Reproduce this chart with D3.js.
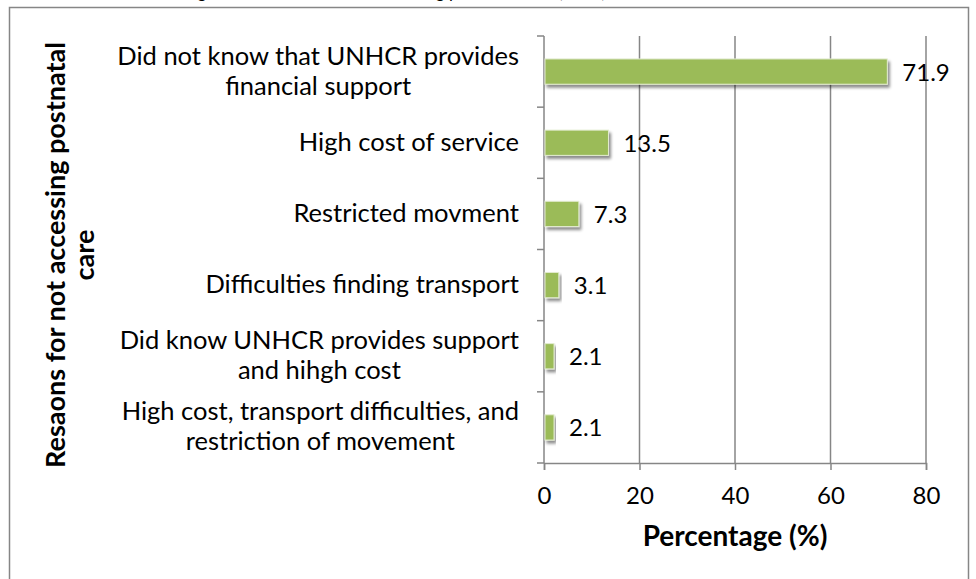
<!DOCTYPE html>
<html>
<head>
<meta charset="utf-8">
<script src="https://cdn.jsdelivr.net/npm/d3@7"></script>
<style>
  body { margin: 0; background: #fff; }
  svg { display: block; }
  text { font-family: Lato, "Open Sans", sans-serif; fill: #000; }
</style>
</head>
<body>
<svg width="976" height="579"></svg>
<script>
  var categories = [
    ['Did not know that UNHCR provides', 'financial support'],
    ['High cost of service'],
    ['Restricted movment'],
    ['Difficulties finding transport'],
    ['Did know UNHCR provides support', 'and hihgh cost'],
    ['High cost, transport difficulties, and', 'restriction of movement']
  ];
  var values = [71.9, 13.5, 7.3, 3.1, 2.1, 2.1];
  var xTicks = [0, 20, 40, 60, 80];

  var svg = d3.select('svg');

  var plotLeft = 544, plotRight = 926, plotTop = 36, plotBottom = 463;
  var grid = '#868686';

  // drop shadow for the bars
  var defs = svg.append('defs');
  var f = defs.append('filter').attr('id', 'shadow')
    .attr('x', '-10%').attr('y', '-30%').attr('width', '130%').attr('height', '180%');
  f.append('feDropShadow')
    .attr('dx', 2).attr('dy', 3).attr('stdDeviation', 1.8)
    .attr('flood-color', '#000').attr('flood-opacity', 0.45);

  // chart frame
  svg.append('rect')
    .attr('x', 9.5).attr('y', 7.5)
    .attr('width', 959).attr('height', 600)
    .attr('fill', 'none')
    .attr('stroke', grid)
    .attr('stroke-width', 1.5);

  // title, mostly cut off at the top of the page
  svg.append('text')
    .attr('x', 395).attr('y', -2)
    .attr('text-anchor', 'middle')
    .style('font-size', '17px')
    .text('Figure 5: Reasons for not accessing postnatal care (n=96)');

  var x = d3.scaleLinear().domain([0, 80]).range([plotLeft, plotRight]);
  var y = d3.scaleBand()
    .domain(d3.range(categories.length))
    .range([plotTop, plotBottom]);

  // vertical gridlines
  svg.append('g')
    .selectAll('line')
    .data(xTicks.slice(1))
    .join('line')
    .attr('x1', function(d) { return x(d); })
    .attr('x2', function(d) { return x(d); })
    .attr('y1', plotTop)
    .attr('y2', plotBottom)
    .attr('stroke', grid)
    .attr('stroke-width', 1.5);

  // x axis
  var xAxis = svg.append('g')
    .attr('transform', 'translate(0,' + plotBottom + ')')
    .call(d3.axisBottom(x).tickValues(xTicks).tickSize(7).tickPadding(17).tickFormat(d3.format('d')));
  xAxis.select('.domain').attr('stroke', grid).attr('stroke-width', 1.5);
  xAxis.selectAll('.tick line').attr('stroke', grid).attr('stroke-width', 1.5);
  xAxis.selectAll('.tick text')
    .style('font-family', 'Lato, sans-serif')
    .style('font-size', '24px')
    .attr('fill', '#000');

  // y axis (ticks between categories)
  var yTicks = d3.range(categories.length + 1).map(function(i) { return plotTop + i * y.step(); });
  var yAxis = svg.append('g');
  yAxis.append('line')
    .attr('x1', plotLeft).attr('x2', plotLeft)
    .attr('y1', plotTop).attr('y2', plotBottom)
    .attr('stroke', grid).attr('stroke-width', 1.5);
  yAxis.selectAll('.yt')
    .data(yTicks)
    .join('line')
    .attr('class', 'yt')
    .attr('x1', plotLeft - 7).attr('x2', plotLeft)
    .attr('y1', function(d) { return d; })
    .attr('y2', function(d) { return d; })
    .attr('stroke', grid).attr('stroke-width', 1.5);

  // category labels: lines centred within a block that is right-aligned to the axis
  var lineH = 30;
  svg.append('g')
    .selectAll('text')
    .data(categories)
    .join('text')
    .attr('class', 'cat')
    .attr('text-anchor', 'middle')
    .style('font-size', '25.5px')
    .each(function(lines, i) {
      var cy = y(i) + y.bandwidth() / 2;
      var t = d3.select(this);
      lines.forEach(function(s, j) {
        t.append('tspan')
          .attr('x', 0)
          .attr('y', cy + 8 + (j - (lines.length - 1) / 2) * lineH)
          .text(s);
      });
      var w = this.getBBox().width;
      t.selectAll('tspan').attr('x', 519 - w / 2);
    });

  // bars
  var barH = y.bandwidth() * 0.355;
  svg.append('g')
    .selectAll('rect')
    .data(values)
    .join('rect')
    .attr('x', x(0) + 1)
    .attr('y', function(d, i) { return y(i) + (y.bandwidth() - barH) / 2; })
    .attr('width', function(d) { return x(d) - x(0) - 1; })
    .attr('height', barH)
    .attr('fill', '#9BBB59')
    .attr('stroke', '#e3ecd0')
    .attr('stroke-width', 1)
    .attr('filter', 'url(#shadow)');

  // value labels
  svg.append('g')
    .selectAll('text')
    .data(values)
    .join('text')
    .attr('x', function(d) { return x(d) + 15; })
    .attr('y', function(d, i) { return y(i) + y.bandwidth() / 2 + 9; })
    .style('font-size', '24px')
    .text(function(d) { return d3.format('.1f')(d); });

  // axis titles
  svg.append('text')
    .attr('x', 735).attr('y', 546)
    .attr('text-anchor', 'middle')
    .style('font-size', '28px')
    .style('font-weight', 'bold')
    .text('Percentage (%)');

  var yt = svg.append('text')
    .attr('transform', 'translate(71,255) rotate(-90)')
    .attr('text-anchor', 'middle')
    .style('font-size', '27px')
    .style('font-weight', 'bold');
  yt.append('tspan').attr('x', 0).attr('y', -6).text('Resaons for not accessing postnatal');
  yt.append('tspan').attr('x', 0).attr('y', 23).text('care');
</script>
</body>
</html>
